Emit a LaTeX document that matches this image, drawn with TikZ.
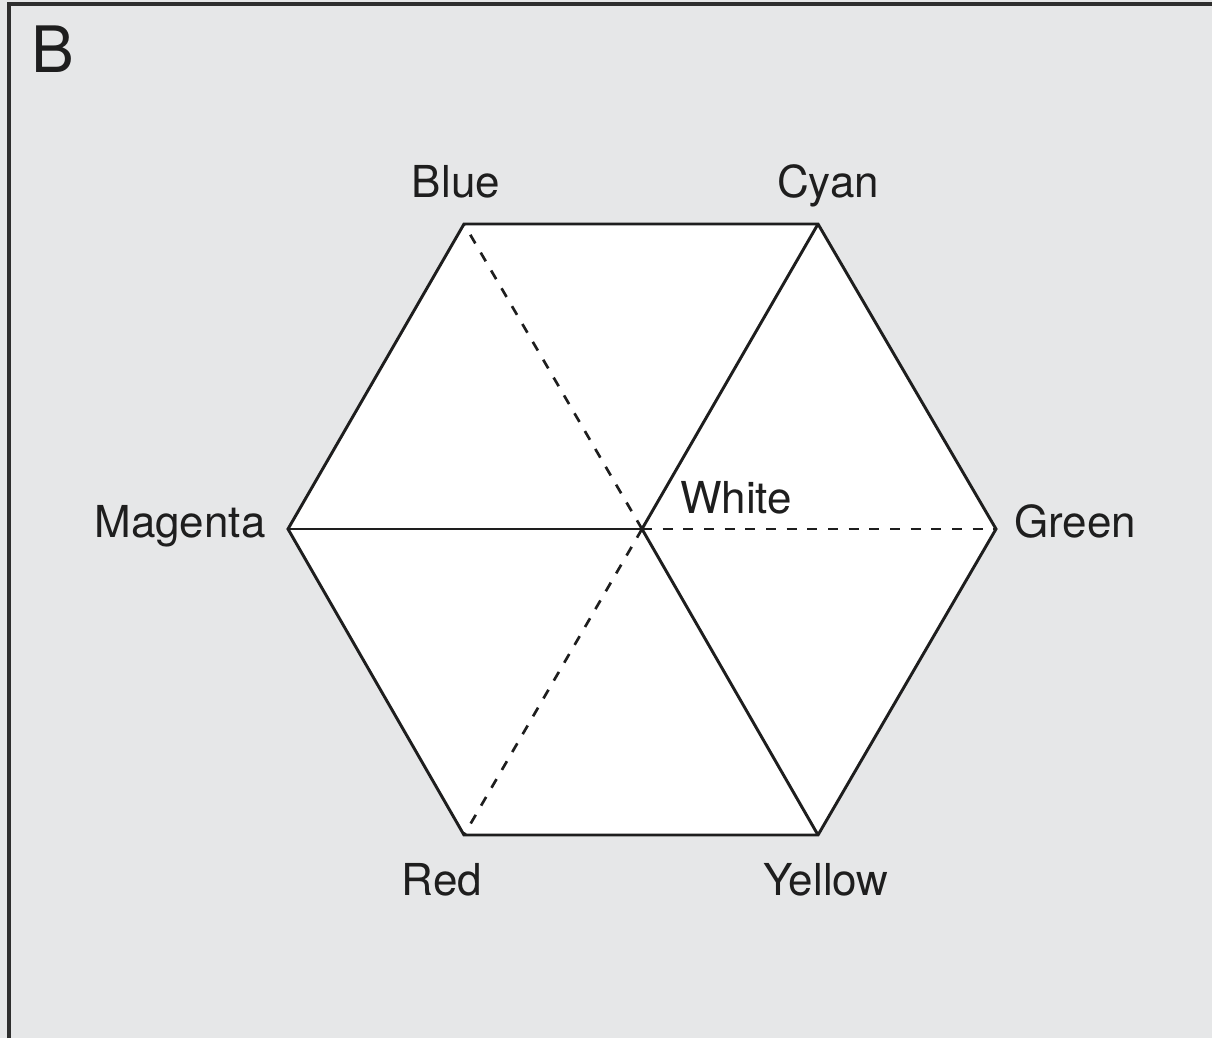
\documentclass[tikz,border=0pt]{standalone}
\usepackage{fontspec}
\setmainfont{TeX Gyre Heros}
\usetikzlibrary{positioning}

\definecolor{panelgray}{HTML}{E6E7E8}
\definecolor{framegray}{HTML}{2E2E2E}
\definecolor{inkgray}{HTML}{1E1E1E}

\begin{document}
\begin{tikzpicture}[
  x=0.75pt, y=-0.75pt,
  edge/.style={line width=2.2pt, line join=miter, inkgray},
  dashedge/.style={line width=2pt, inkgray, dash pattern=on 7.5pt off 8pt},
  colorlabel/.style={anchor=base, inner sep=0pt, text=inkgray, font=\fontsize{33}{39}\selectfont},
  panellabel/.style={anchor=base west, inner sep=0pt, text=inkgray, font=\fontsize{48}{56}\selectfont}
]
\useasboundingbox (0,0) rectangle (1212,1038);
\fill[panelgray] (0,0) rectangle (1212,1038);
\draw[framegray, line width=2.4pt] (9,1038) -- (9,4) -- (1212,4);

% hexagon corners
\coordinate (blue) at (464,224);
\coordinate (cyan) at (818,224);
\coordinate (green) at (996,529);
\coordinate (yellow) at (818,835);
\coordinate (red) at (464,835);
\coordinate (magenta) at (288,529);
\coordinate (white) at (642,529);

\fill[white] (blue) -- (cyan) -- (green) -- (yellow) -- (red) -- (magenta) -- cycle;

% spokes
\draw[dashedge] (white) -- (blue);
\draw[dashedge] (white) -- (green);
\draw[dashedge] (white) -- (red);
\draw[edge] (magenta) -- (white);
\draw[edge] (cyan) -- (white) -- (yellow);

\draw[edge] (blue) -- (cyan) -- (green) -- (yellow) -- (red) -- (magenta) -- cycle;

% labels
\node[panellabel] (panel) at (31,73) {B};
\node[colorlabel] (bluelbl) at (456,197) {Blue};
\node[colorlabel] (cyanlbl) at (828,197) {Cyan};
\node[colorlabel] (magentalbl) at (180,537) {Magenta};
\node[colorlabel] (whitelbl) at (736,513) {White};
\node[colorlabel] (greenlbl) at (1075,537) {Green};
\node[colorlabel] (redlbl) at (442,895) {Red};
\node[colorlabel] (yellowlbl) at (826,895) {Yellow};

\end{tikzpicture}
\end{document}
